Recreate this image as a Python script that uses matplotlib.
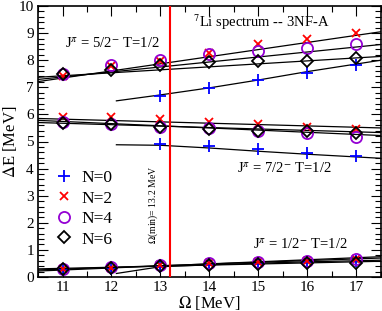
import matplotlib
matplotlib.use("Agg")
import matplotlib.pyplot as plt
from matplotlib.ticker import MultipleLocator

plt.rcParams['font.family'] = ['Liberation Serif', 'DejaVu Serif']
plt.rcParams['mathtext.fontset'] = 'stix'

# oscillator frequencies
omega = [11, 12, 13, 14, 15, 16, 17]
omega_n0 = [13, 14, 15, 16, 17]

# J=5/2- T=1/2
e52_n0 = [6.69, 6.96, 7.27, 7.54, 7.84]
e52_n2 = [7.42, 7.79, 7.97, 8.25, 8.58, 8.78, 9.01]
e52_n4 = [7.50, 7.82, 8.00, 8.22, 8.35, 8.46, 8.60]
e52_n6 = [7.49, 7.64, 7.82, 7.92, 7.98, 7.98, 8.07]

# J=7/2- T=1/2
e72_n0 = [4.91, 4.85, 4.72, 4.59, 4.47]
e72_n2 = [5.89, 5.89, 5.82, 5.73, 5.65, 5.55, 5.45]
e72_n4 = [5.71, 5.63, 5.55, 5.51, 5.39, 5.30, 5.18]
e72_n6 = [5.69, 5.63, 5.52, 5.45, 5.40, 5.40, 5.30]

# J=1/2- T=1/2
e12_n0 = [0.24, 0.30, 0.37, 0.44, 0.49, 0.54, 0.60]
e12_n2 = [0.28, 0.35, 0.43, 0.50, 0.55, 0.60, 0.67]
e12_n4 = [0.30, 0.37, 0.45, 0.52, 0.56, 0.60, 0.68]
e12_n6 = [0.28, 0.33, 0.40, 0.45, 0.48, 0.50, 0.50]

# fitted curves (omega, energy)
fit_x = [10.5, 17.5]
fit_n0_x = [12.1, 13, 14, 15, 16, 17.5]
fits = [
    (fit_x, [7.21, 9.05]),
    (fit_x, [7.29, 8.58]),
    (fit_x, [7.37, 8.14]),
    (fit_n0_x, [6.50, 6.72, 6.98, 7.27, 7.58, 8.00]),
    (fit_x, [5.85, 5.50]),
    (fit_x, [5.78, 5.22]),
    (fit_x, [5.70, 5.33]),
    (fit_n0_x, [4.88, 4.86, 4.76, 4.64, 4.53, 4.38]),
    (fit_x, [0.22, 0.75]),
    (fit_x, [0.26, 0.70]),
    (fit_x, [0.30, 0.58]),
    (fit_n0_x, [0.13, 0.38, 0.45, 0.51, 0.56, 0.62]),
]

omega_min = 13.2

fig = plt.figure(figsize=(3.82, 3.11), dpi=100)
ax = fig.add_axes([38 / 382, 34 / 311, 343 / 382, 271 / 311])

for fx, fy in fits:
    ax.plot(fx, fy, color='black', lw=0.9, zorder=2)

ax.axvline(omega_min, color='#ff0000', lw=1.5, zorder=3)

plus = dict(marker='+', color='#0000ff', ms=9, mew=1.3, ls='none', zorder=4)
cross = dict(marker='x', color='#ff0000', ms=6, mew=1.3, ls='none', zorder=4)
circ = dict(marker='o', mec='#9400d3', mfc='none', ms=8, mew=1.3, ls='none', zorder=4)
diam = dict(marker='D', mec='black', mfc='none', ms=6, mew=1.3, ls='none', zorder=5)

ax.plot(omega_n0, e52_n0, **plus)
ax.plot(omega_n0, e72_n0, **plus)
ax.plot(omega, e12_n0, label='N=0', **plus)
for ys in (e52_n2, e72_n2):
    ax.plot(omega, ys, **cross)
ax.plot(omega, e12_n2, label='N=2', **cross)
for ys in (e52_n4, e72_n4):
    ax.plot(omega, ys, **circ)
ax.plot(omega, e12_n4, label='N=4', **circ)
for ys in (e52_n6, e72_n6):
    ax.plot(omega, ys, **diam)
ax.plot(omega, e12_n6, label='N=6', **diam)

ax.set_xlim(10.5, 17.5)
ax.set_ylim(0, 10)
ax.xaxis.set_major_locator(MultipleLocator(1))
ax.xaxis.set_minor_locator(MultipleLocator(0.5))
ax.yaxis.set_major_locator(MultipleLocator(1))
ax.yaxis.set_minor_locator(MultipleLocator(0.2))
ax.tick_params(which='both', direction='in', top=True, right=True, labelsize=11, width=0.8)
ax.tick_params(which='major', length=7, pad=3)
ax.tick_params(which='minor', length=4)
for s in ax.spines.values():
    s.set_linewidth(1.2)

ax.set_xlabel(r'$\Omega$ [MeV]', fontsize=12, labelpad=0)
ax.set_ylabel(r'$\Delta$E [MeV]', fontsize=12, labelpad=0)

ax.text(11.05, 8.63, r'J$^{\pi}$ = 5/2$^{-}$ T=1/2', fontsize=10.5, va='center')
ax.text(14.57, 4.02, r'J$^{\pi}$ = 7/2$^{-}$ T=1/2', fontsize=10.5, va='center')
ax.text(14.88, 1.18, r'J$^{\pi}$ = 1/2$^{-}$ T=1/2', fontsize=10.5, va='center')
ax.text(13.67, 9.41, r'$^{7}$Li spectrum -- 3NF-A', fontsize=10.5, va='center')
ax.text(12.85, 2.66, r'$\Omega$(min)= 13.2 MeV', fontsize=7, rotation=90,
        ha='center', va='center')

ax.legend(loc='upper left', bbox_to_anchor=(0.015, 0.44), frameon=False,
          fontsize=12.5, handlelength=1.0, handletextpad=0.5, labelspacing=0.25,
          borderpad=0.2)

fig.savefig('out.png', dpi=100)
